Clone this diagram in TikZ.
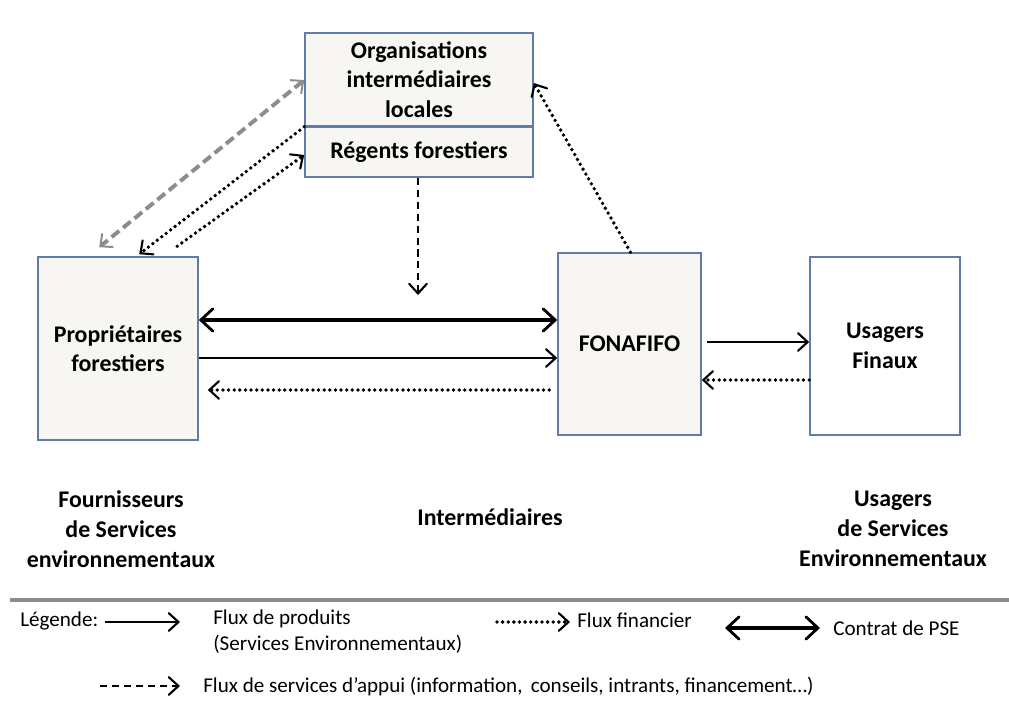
\documentclass[tikz,border=0pt]{standalone}
\usepackage{fontspec}
\setmainfont{Carlito}
\usepackage{tikz}
\usetikzlibrary{arrows.meta,positioning,calc}
\definecolor{psedge}{RGB}{96,125,168}
\definecolor{psfill}{RGB}{247,246,242}
\definecolor{psgray}{RGB}{140,140,140}
\tikzset{
  psbox/.style={
    draw=psedge, line width=1.1pt, fill=psfill,
    align=center, inner sep=2pt,
    font=\bfseries\fontsize{17}{21}\selectfont
  },
  whitebox/.style={psbox, fill=white},
  lbl/.style={align=center, font=\bfseries\fontsize{17}{21.5}\selectfont},
  legtxt/.style={align=left, inner sep=0pt, font=\fontsize{15}{18}\selectfont},
  tip/.style={-{Straight Barb[length=2.4mm,width=4.4mm,line width=1.5pt,line cap=round]}},
  prod/.style={tip, line width=1.4pt},
  fin/.style={tip, line width=2.7pt, line cap=round, dash pattern=on 0pt off 4pt},
  appui/.style={tip, line width=1.5pt, dash pattern=on 5pt off 3.5pt},
  contrat/.style={{Straight Barb[length=3mm,width=5.6mm,line width=2pt,line cap=round]}-{Straight Barb[length=3mm,width=5.6mm,line width=2pt,line cap=round]}, line width=3.4pt}
}
\begin{document}
\begin{tikzpicture}[x=0.025cm, y=-0.025cm]
  \useasboundingbox (0,0) rectangle (1009,702);
  % actors
  \node[psbox, minimum width=5.7cm, minimum height=2.325cm] (org) at (419,79.5) {Organisations\\intermédiaires\\locales};
  \node[psbox, minimum width=5.7cm, minimum height=1.25cm] (reg) at (419,152) {Régents forestiers};
  \node[psbox, minimum width=4cm, minimum height=4.575cm] (prop) at (118,348.5) {Propriétaires\\forestiers};
  \node[psbox, minimum width=3.575cm, minimum height=4.55cm] (fona) at (629.5,344) {FONAFIFO};
  \node[whitebox, minimum width=3.75cm, minimum height=4.45cm] (usag) at (885,346) {Usagers\\Finaux};
  % column labels
  \node[lbl] (four) at (121,529) {Fournisseurs\\de Services\\environnementaux};
  \node[lbl] (inter) at (490,517) {Intermédiaires};
  \node[lbl] (usse) at (893,529) {Usagers\\de Services\\Environnementaux};
  % flows between actors
  \draw[contrat] (prop.east |- 0,320) -- (fona.west |- 0,320);
  \draw[prod] (prop.east |- 0,358) -- (fona.west |- 0,358);
  \draw[fin] ($(fona.west |- 0,390)+(-8,0)$) -- ($(prop.east |- 0,390)+(9,0)$);
  \draw[prod] ($(fona.east |- 0,342)+(5,0)$) -- (usag.west |- 0,342);
  \draw[fin] (usag.west |- 0,380) -- (fona.east |- 0,380);
  \coordinate (mid) at (418,295);
  \draw[appui] (reg.south -| mid) -- (mid);
  \draw[fin] ($(fona.north)+(1,0)$) -- (org.east |- 0,83);
  \draw[tip, draw=psgray, line width=2.8pt, dash pattern=on 7pt off 3.5pt, {Straight Barb[length=2.4mm,width=4.4mm,line width=1.4pt]}-{Straight Barb[length=2.4mm,width=4.4mm,line width=1.4pt]}] (org.west |- 0,80) -- ($(prop.north west)+(62,-9)$);
  \draw[fin] (org.south west) -- ($(prop.north west)+(102,-2)$);
  \draw[fin] ($(prop.north west)+(140,-10)$) -- (reg.west |- 0,155);
  % legend
  \draw[psgray, line width=2.2pt] (10,600) -- (1009,600);
  \node[legtxt, anchor=west] (leg) at (20,621) {Légende:};
  \coordinate (l1a) at (105,622); \coordinate (l1b) at (180,622);
  \draw[prod] (l1a) -- (l1b);
  \node[legtxt, anchor=north west] (prodtxt) at (213,610) {Flux de produits\\(Services Environnementaux)};
  \coordinate (l2a) at (497,622); \coordinate (l2b) at (570,622);
  \draw[fin] (l2a) -- (l2b);
  \node[legtxt, anchor=west] (fintxt) at (577,620) {Flux financier};
  \coordinate (l3a) at (725,628); \coordinate (l3b) at (820,628);
  \draw[contrat] (l3a) -- (l3b);
  \node[legtxt, anchor=west] (pse) at (833,628) {Contrat de PSE};
  \coordinate (l4a) at (100,686); \coordinate (l4b) at (180,686);
  \draw[appui] (l4a) -- (l4b);
  \node[legtxt, anchor=west] (apptxt) at (203,686) {Flux de services d’appui (information,\, conseils, intrants, financement…)};
\end{tikzpicture}
\end{document}
